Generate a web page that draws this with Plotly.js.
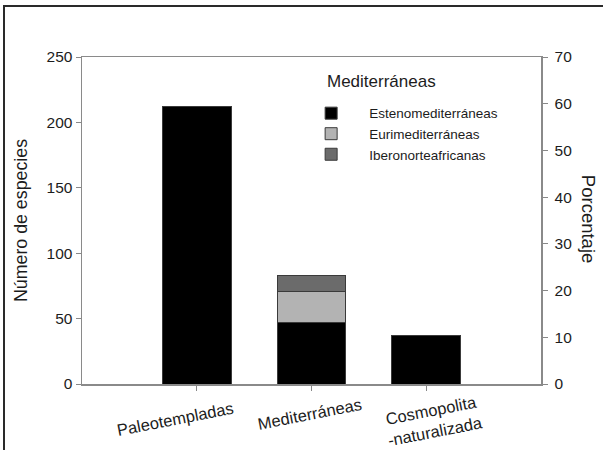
<!DOCTYPE html>
<html>
<head>
<meta charset="utf-8">
<script src="https://cdn.plot.ly/plotly-3.0.1.min.js"></script>
<style>
  html, body { margin: 0; padding: 0; background: #fff; }
  #wrap { position: relative; width: 603px; height: 450px; overflow: hidden; }
  #chart { position: absolute; left: 0; top: 0; width: 603px; height: 450px; }
  #frame { position: absolute; left: 3px; top: 5px; width: 640px; height: 480px;
           border-left: 2px solid #2a2a2a; border-top: 2px solid #2a2a2a; pointer-events: none; }
</style>
</head>
<body>
<div id="wrap">
  <div id="chart"></div>
  <div id="frame"></div>
</div>
<script>
// ---- data ----
var categories = ['Paleotempladas', 'Mediterráneas', 'Cosmopolita'];
var tickLabels = ['Paleotempladas', 'Mediterráneas', 'Cosmopolita<br>-naturalizada'];
var otherGroups = [212, null, 37];          // non-Mediterranean groups (black)
var estenomediterraneas = [null, 47, null];
var eurimediterraneas = [null, 24, null];
var iberonorteafricanas = [null, 12, null];
var percentAxisValues = [null, null, null]; // only anchors the right-hand axis
var seriesNames = ['Estenomediterráneas', 'Eurimediterráneas', 'Iberonorteafricanas'];
var leftTicks = [0, 50, 100, 150, 200, 250];
var rightTicks = [0, 10, 20, 30, 40, 50, 60, 70];
var labelShiftX = [-22, -2, 7];
var labelShiftY = [-35, -30, -36];

var FONT = 'Liberation Sans, Arial, Helvetica, sans-serif';
var TXT = '#1c1c1c';
var edge = {color: '#3a3a3a', width: 1};

var traces = [
  {type: 'bar', x: categories, y: otherGroups, name: 'Otros', showlegend: false,
   marker: {color: '#000000', line: edge}, width: 0.6},
  {type: 'bar', x: categories, y: estenomediterraneas, name: seriesNames[0],
   marker: {color: '#000000', line: edge}, width: 0.6},
  {type: 'bar', x: categories, y: eurimediterraneas, name: seriesNames[1],
   marker: {color: '#b3b3b3', line: edge}, width: 0.6},
  {type: 'bar', x: categories, y: iberonorteafricanas, name: seriesNames[2],
   marker: {color: '#6b6b6b', line: edge}, width: 0.6},
  {type: 'scatter', mode: 'lines', x: categories, y: percentAxisValues, yaxis: 'y2',
   showlegend: false, hoverinfo: 'skip', line: {width: 0}}
];

var annotations = categories.map(function (c, i) {
  return {x: c, xref: 'x', y: 0, yref: 'paper', text: tickLabels[i], showarrow: false,
          textangle: -11, xanchor: 'center', yanchor: 'middle', align: 'center',
          xshift: labelShiftX[i], yshift: labelShiftY[i],
          font: {family: FONT, size: 16.5, color: TXT}};
});
annotations.push({x: 0.529, xref: 'paper', y: 0.924, yref: 'paper', text: 'Mediterráneas',
  showarrow: false, xanchor: 'left', yanchor: 'middle', font: {family: FONT, size: 17, color: TXT}});
annotations.push({x: 1, xref: 'paper', y: 0.505, yref: 'paper', text: 'Porcentaje', showarrow: false,
  textangle: 90, xanchor: 'center', yanchor: 'middle', xshift: 47,
  font: {family: FONT, size: 18.5, color: TXT}});

var layout = {
  width: 603, height: 450,
  margin: {l: 82, r: 62, t: 57, b: 66},
  paper_bgcolor: '#ffffff', plot_bgcolor: '#ffffff',
  barmode: 'stack',
  showlegend: true,
  legend: {x: 0.46, xanchor: 'left', y: 0.875, yanchor: 'top', traceorder: 'normal',
           itemwidth: 66, bgcolor: 'rgba(0,0,0,0)', borderwidth: 0,
           font: {family: FONT, size: 13.5, color: TXT}},
  xaxis: {type: 'category', range: [-1, 3], showticklabels: false,
          ticks: 'outside', ticklen: 5, tickcolor: '#888', tickwidth: 1,
          showline: true, linecolor: '#8a8a8a', linewidth: 1.5, mirror: true,
          showgrid: false, zeroline: false, fixedrange: true},
  yaxis: {range: [0, 250], tickvals: leftTicks, ticks: 'outside', ticklen: 5,
          tickcolor: '#888', tickwidth: 1, showline: true, linecolor: '#8a8a8a', linewidth: 1.5,
          showgrid: false, zeroline: false,
          tickfont: {family: FONT, size: 15.5, color: TXT},
          title: {text: 'Número de especies', font: {family: FONT, size: 17.8, color: TXT}, standoff: 14}},
  yaxis2: {range: [0, 70], tickvals: rightTicks, overlaying: 'y', side: 'right',
           ticks: 'outside', ticklen: 5, tickcolor: '#888', tickwidth: 1,
           showline: true, linecolor: '#8a8a8a', linewidth: 1.5,
           showgrid: false, zeroline: false, ticklabelstandoff: 4,
           tickfont: {family: FONT, size: 15.5, color: TXT}},
  annotations: annotations
};

Plotly.newPlot('chart', traces, layout, {displayModeBar: false, staticPlot: true});
</script>
</body>
</html>
